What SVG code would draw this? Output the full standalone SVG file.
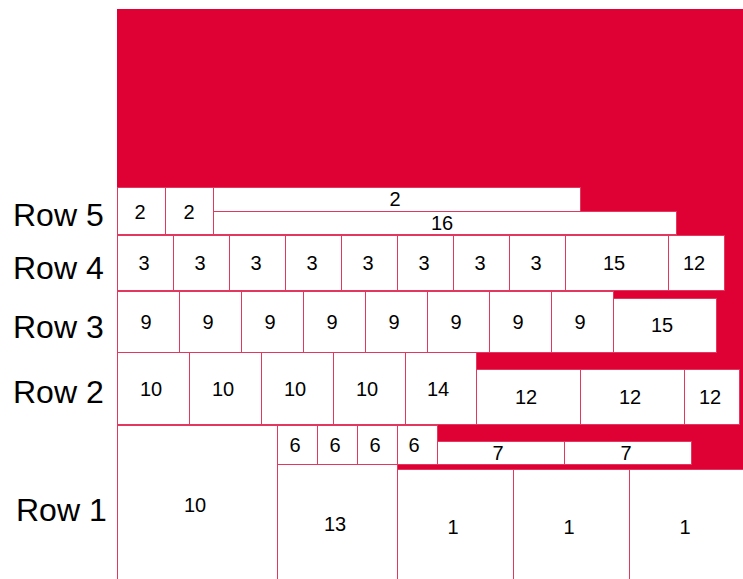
<svg xmlns="http://www.w3.org/2000/svg" width="743" height="579" viewBox="0 0 743 579">
<style>
.b{fill:#ffffff;stroke:#E2375F;stroke-width:1}
.t{font-family:"Liberation Sans",Arial,sans-serif;font-size:20px;fill:#000;text-anchor:middle;dominant-baseline:central}
.l{font-family:"Liberation Sans",Arial,sans-serif;font-size:32px;fill:#000}
</style>
<rect x="0" y="0" width="743" height="579" fill="#ffffff"/>
<rect x="117" y="9" width="626" height="570" fill="#DF0034"/>
<g id="labels">
<text class="l" x="13" y="226">Row 5</text>
<text class="l" x="13" y="279">Row 4</text>
<text class="l" x="13" y="338">Row 3</text>
<text class="l" x="13" y="403">Row 2</text>
<text class="l" x="16" y="521">Row 1</text>
</g>
<g id="connectors"></g>
<g id="row5">
<g id="r5-1"><rect class="b" x="117.5" y="187.5" width="48" height="47"/><text class="t" x="140" y="212">2</text></g>
<g id="r5-2"><rect class="b" x="165.5" y="187.5" width="48" height="47"/><text class="t" x="189" y="212">2</text></g>
<g id="r5-3"><rect class="b" x="213.5" y="187.5" width="367" height="24"/><text class="t" x="395" y="199">2</text></g>
<g id="r5-4"><rect class="b" x="213.5" y="211.5" width="463" height="23"/><text class="t" x="442" y="223">16</text></g>
</g>
<g id="row4">
<g id="r4-1"><rect class="b" x="117.5" y="235.5" width="56" height="55"/><text class="t" x="144" y="263">3</text></g>
<g id="r4-2"><rect class="b" x="173.5" y="235.5" width="56" height="55"/><text class="t" x="200" y="263">3</text></g>
<g id="r4-3"><rect class="b" x="229.5" y="235.5" width="56" height="55"/><text class="t" x="256" y="263">3</text></g>
<g id="r4-4"><rect class="b" x="285.5" y="235.5" width="56" height="55"/><text class="t" x="312" y="263">3</text></g>
<g id="r4-5"><rect class="b" x="341.5" y="235.5" width="56" height="55"/><text class="t" x="368" y="263">3</text></g>
<g id="r4-6"><rect class="b" x="397.5" y="235.5" width="56" height="55"/><text class="t" x="424" y="263">3</text></g>
<g id="r4-7"><rect class="b" x="453.5" y="235.5" width="56" height="55"/><text class="t" x="480" y="263">3</text></g>
<g id="r4-8"><rect class="b" x="509.5" y="235.5" width="56" height="55"/><text class="t" x="536" y="263">3</text></g>
<g id="r4-9"><rect class="b" x="565.5" y="235.5" width="103" height="55"/><text class="t" x="614" y="263">15</text></g>
<g id="r4-10"><rect class="b" x="668.5" y="235.5" width="56" height="55"/><text class="t" x="694" y="263">12</text></g>
</g>
<g id="row3">
<g id="r3-1"><rect class="b" x="117.5" y="291.5" width="62" height="61"/><text class="t" x="146" y="322">9</text></g>
<g id="r3-2"><rect class="b" x="179.5" y="291.5" width="62" height="61"/><text class="t" x="208" y="322">9</text></g>
<g id="r3-3"><rect class="b" x="241.5" y="291.5" width="62" height="61"/><text class="t" x="270" y="322">9</text></g>
<g id="r3-4"><rect class="b" x="303.5" y="291.5" width="62" height="61"/><text class="t" x="332" y="322">9</text></g>
<g id="r3-5"><rect class="b" x="365.5" y="291.5" width="62" height="61"/><text class="t" x="394" y="322">9</text></g>
<g id="r3-6"><rect class="b" x="427.5" y="291.5" width="62" height="61"/><text class="t" x="456" y="322">9</text></g>
<g id="r3-7"><rect class="b" x="489.5" y="291.5" width="62" height="61"/><text class="t" x="518" y="322">9</text></g>
<g id="r3-8"><rect class="b" x="551.5" y="291.5" width="62" height="61"/><text class="t" x="580" y="322">9</text></g>
<g id="r3-9"><rect class="b" x="613.5" y="298.5" width="103" height="54"/><text class="t" x="662" y="325">15</text></g>
</g>
<g id="row2">
<g id="r2-1"><rect class="b" x="117.5" y="352.5" width="72" height="72"/><text class="t" x="151" y="389">10</text></g>
<g id="r2-2"><rect class="b" x="189.5" y="352.5" width="72" height="72"/><text class="t" x="223" y="389">10</text></g>
<g id="r2-3"><rect class="b" x="261.5" y="352.5" width="72" height="72"/><text class="t" x="295" y="389">10</text></g>
<g id="r2-4"><rect class="b" x="333.5" y="352.5" width="72" height="72"/><text class="t" x="367" y="389">10</text></g>
<g id="r2-5"><rect class="b" x="405.5" y="352.5" width="71" height="72"/><text class="t" x="438" y="389">14</text></g>
<g id="r2-6"><rect class="b" x="476.5" y="369.5" width="104" height="55"/><text class="t" x="526" y="397">12</text></g>
<g id="r2-7"><rect class="b" x="580.5" y="369.5" width="104" height="55"/><text class="t" x="630" y="397">12</text></g>
<g id="r2-8"><rect class="b" x="684.5" y="369.5" width="55" height="55"/><text class="t" x="710" y="397">12</text></g>
</g>
<g id="row1">
<g id="r1-1"><rect class="b" x="117.5" y="425.5" width="160" height="160"/><text class="t" x="195" y="505">10</text></g>
<g id="r1-2"><rect class="b" x="277.5" y="425.5" width="40" height="39"/><text class="t" x="295" y="445">6</text></g>
<g id="r1-3"><rect class="b" x="317.5" y="425.5" width="40" height="39"/><text class="t" x="335" y="445">6</text></g>
<g id="r1-4"><rect class="b" x="357.5" y="425.5" width="40" height="39"/><text class="t" x="375" y="445">6</text></g>
<g id="r1-5"><rect class="b" x="397.5" y="425.5" width="40" height="39"/><text class="t" x="414" y="445">6</text></g>
<g id="r1-6"><rect class="b" x="437.5" y="441.5" width="127" height="23"/><text class="t" x="498" y="453">7</text></g>
<g id="r1-7"><rect class="b" x="564.5" y="441.5" width="127" height="23"/><text class="t" x="626" y="453">7</text></g>
<g id="r1-8"><rect class="b" x="277.5" y="464.5" width="120" height="120"/><text class="t" x="335" y="524">13</text></g>
<g id="r1-9"><rect class="b" x="397.5" y="469.5" width="116" height="116"/><text class="t" x="453" y="527">1</text></g>
<g id="r1-10"><rect class="b" x="513.5" y="469.5" width="116" height="116"/><text class="t" x="569" y="527">1</text></g>
<g id="r1-11"><rect class="b" x="629.5" y="469.5" width="116" height="116"/><text class="t" x="685" y="527">1</text></g>
</g>
</svg>
